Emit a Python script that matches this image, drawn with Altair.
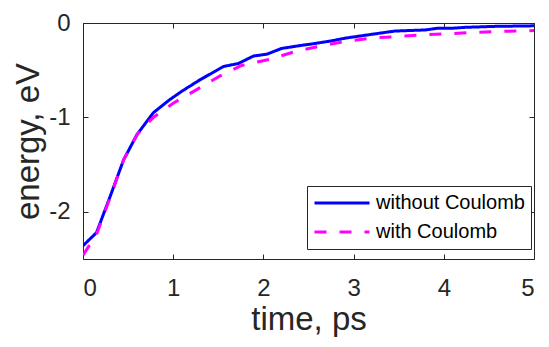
import altair as alt
import pandas as pd

# without Coulomb (solid blue)
time_wo = [0, 0.15, 0.3, 0.45, 0.6, 0.78, 0.95, 1.1, 1.3, 1.56, 1.72, 1.89, 2.04, 2.2,
           2.4, 2.55, 2.75, 2.91, 3.2, 3.46, 3.79, 3.93, 4.08, 4.24, 4.55, 5.0]
energy_wo = [-2.36, -2.22, -1.84, -1.45, -1.18, -0.95, -0.82, -0.72, -0.60, -0.46, -0.43,
             -0.35, -0.33, -0.27, -0.24, -0.22, -0.19, -0.16, -0.12, -0.085, -0.074,
             -0.056, -0.056, -0.046, -0.036, -0.03]

# with Coulomb (dashed magenta)
time_w = [0, 0.15, 0.3, 0.45, 0.6, 0.78, 1.0, 1.27, 1.52, 1.76, 2.07, 2.36, 2.62, 2.91,
          3.2, 3.49, 3.79, 4.04, 4.37, 4.62, 5.0]
energy_w = [-2.46, -2.24, -1.85, -1.45, -1.18, -1.0, -0.85, -0.70, -0.56, -0.45, -0.385,
            -0.30, -0.247, -0.195, -0.16, -0.143, -0.125, -0.115, -0.098, -0.09, -0.08]

series_names = ["without Coulomb", "with Coulomb"]
x_ticks = [0, 1, 2, 3, 4, 5]
y_ticks = [-2, -1, 0]

df = pd.concat([
    pd.DataFrame({"time": time_wo, "energy": energy_wo, "series": series_names[0], "order": range(len(time_wo))}),
    pd.DataFrame({"time": time_w, "energy": energy_w, "series": series_names[1], "order": range(len(time_w))}),
])

FONT = "Liberation Sans"
INK = "#262626"

xscale = alt.Scale(domain=[0, 5], nice=False)
yscale = alt.Scale(domain=[-2.5, 0], nice=False)

lines = alt.Chart(df).mark_line(strokeWidth=3, clip=True).encode(
    x=alt.X("time:Q", scale=xscale, axis=alt.Axis(
        title="time, ps", values=x_ticks, orient="bottom", offset=-5, domain=False, grid=False,
        tickSize=5, labelPadding=17, labelFontSize=24, titleFontSize=33, titleFontWeight="normal",
        titlePadding=3, labelExpr="'' + datum.value")),
    y=alt.Y("energy:Q", scale=yscale, axis=alt.Axis(
        title="energy, eV", values=y_ticks, orient="left", offset=-5, domain=False, grid=False,
        tickSize=5, labelPadding=13, labelFontSize=24, titleFontSize=33, titleFontWeight="normal",
        titlePadding=3, labelExpr="'' + datum.value")),
    color=alt.Color("series:N", scale=alt.Scale(domain=series_names, range=["#0000FF", "#FF00FF"]),
                    legend=alt.Legend(title=None, orient="none", legendX=224, legendY=163,
                                      symbolType="stroke", symbolSize=3025, symbolStrokeWidth=3,
                                      labelFontSize=20, labelFont=FONT, labelColor="#000000",
                                      strokeColor="#262626", fillColor="#FFFFFF", padding=6,
                                      rowPadding=7, clipHeight=22, labelOffset=5, labelLimit=400)),
    strokeDash=alt.StrokeDash("series:N", scale=alt.Scale(domain=series_names, range=[[1, 0], [12, 13]]),
                              legend=None),
    order="order:Q",
)

box_axes = alt.Chart(df).mark_line(opacity=0).encode(
    x=alt.X("time:Q", scale=xscale, axis=alt.Axis(
        title=None, values=x_ticks, orient="top", offset=-5, domain=False, grid=False,
        labels=False, tickSize=5)),
    y=alt.Y("energy:Q", scale=yscale, axis=alt.Axis(
        title=None, values=y_ticks, orient="right", offset=-5, domain=False, grid=False,
        labels=False, tickSize=5)),
    detail="series:N",
)

chart = alt.layer(lines, box_axes).resolve_scale(x="shared", y="shared").resolve_axis(
    x="independent", y="independent"
).properties(
    width=451, height=236,
    background="white",
    autosize=alt.AutoSizeParams(type="none"),
    padding={"left": 75, "top": 15, "right": 7, "bottom": 80},
).configure_view(stroke=INK, strokeWidth=1).configure_axis(
    labelFont=FONT, titleFont=FONT, labelColor=INK, titleColor=INK, tickColor=INK,
    titleFontWeight="normal", grid=False, tickWidth=1
)

chart.save("out.html", embed_options={"renderer": "svg", "actions": False})
